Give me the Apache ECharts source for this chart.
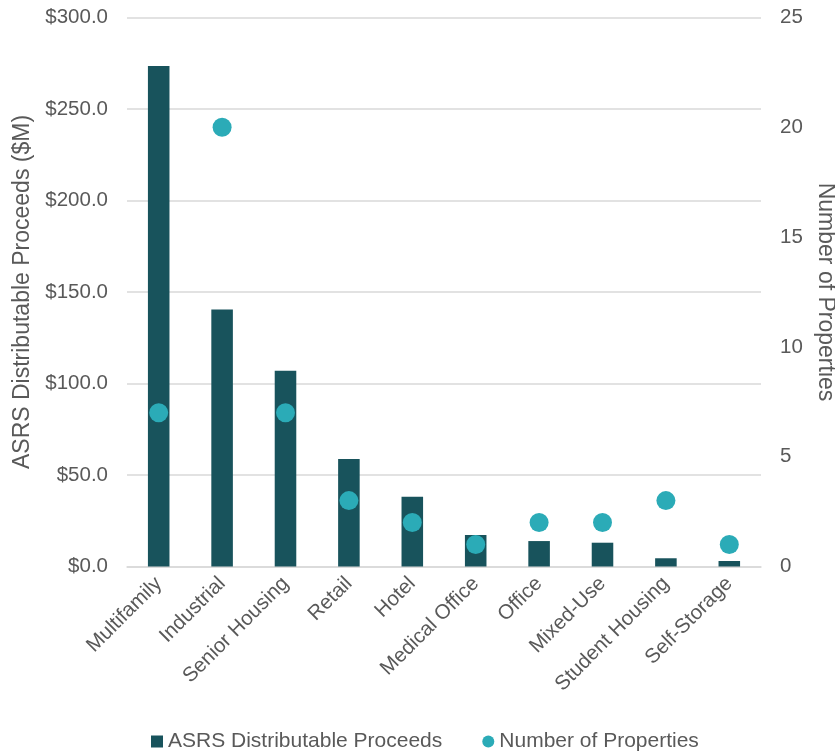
<!DOCTYPE html>
<html>
<head>
<meta charset="utf-8">
<script src="https://cdn.jsdelivr.net/npm/echarts@6/dist/echarts.min.js"></script>
<style>
  html, body { margin: 0; padding: 0; background: #ffffff; }
  #chart { width: 835px; height: 753px; }
</style>
</head>
<body>
<div id="chart"></div>
<script>
// Property types, ordered by distributable proceeds
const categories = ['Multifamily', 'Industrial', 'Senior Housing', 'Retail', 'Hotel',
  'Medical Office', 'Office', 'Mixed-Use', 'Student Housing', 'Self-Storage'];

// ASRS distributable proceeds, $M
const proceeds = [273.5, 140.5, 107.0, 58.7, 38.1, 17.2, 13.9, 13.0, 4.5, 3.0];

// Number of properties per type
const propertyCounts = [7, 20, 7, 3, 2, 1, 2, 2, 3, 1];

const textColor = '#595959';
const fontFamily = '"Liberation Sans", Arial, sans-serif';
const fontSize = 20.5;
const nameSize = 23;

const chart = echarts.init(document.getElementById('chart'), null, { renderer: 'canvas' });

chart.setOption({
  animation: false,
  backgroundColor: '#ffffff',
  textStyle: { fontFamily: fontFamily, color: textColor },
  grid: {
    left: 127, right: 74, top: 17.5, bottom: 186.5,
    containLabel: false,
    outerBoundsMode: 'none'
  },
  legend: {
    top: 726,
    left: 146,
    itemGap: 40,
    itemWidth: 12,
    itemHeight: 12,
    textStyle: { color: textColor, fontSize: 21, fontFamily: fontFamily },
    data: [
      { name: 'ASRS Distributable Proceeds', icon: 'rect' },
      { name: 'Number of Properties', icon: 'circle' }
    ]
  },
  xAxis: {
    type: 'category',
    data: categories,
    axisTick: { show: false },
    axisLine: { lineStyle: { color: '#d9d9d9', width: 1.5 } },
    axisLabel: {
      rotate: 45,
      interval: 0,
      margin: 14,
      color: textColor,
      fontSize: fontSize,
      fontFamily: fontFamily
    }
  },
  yAxis: [
    {
      type: 'value',
      min: 0,
      max: 300,
      interval: 50,
      name: 'ASRS Distributable Proceeds ($M)',
      nameLocation: 'middle',
      nameRotate: 90,
      nameGap: 84,
      nameTextStyle: { color: textColor, fontSize: nameSize, fontFamily: fontFamily },
      axisLine: { show: false },
      axisTick: { show: false },
      axisLabel: {
        margin: 19,
        color: textColor,
        fontSize: fontSize,
        fontFamily: fontFamily,
        formatter: v => '$' + v.toFixed(1)
      },
      splitLine: { lineStyle: { color: '#d9d9d9', width: 1.5 } }
    },
    {
      type: 'value',
      min: 0,
      max: 25,
      interval: 5,
      position: 'right',
      name: 'Number of Properties',
      nameLocation: 'middle',
      nameRotate: -90,
      nameGap: 53,
      nameTextStyle: { color: textColor, fontSize: nameSize, fontFamily: fontFamily },
      axisLine: { show: false },
      axisTick: { show: false },
      axisLabel: {
        margin: 19,
        color: textColor,
        fontSize: fontSize,
        fontFamily: fontFamily
      },
      splitLine: { show: false }
    }
  ],
  series: [
    {
      name: 'ASRS Distributable Proceeds',
      type: 'bar',
      data: proceeds,
      yAxisIndex: 0,
      barWidth: '34%',
      itemStyle: { color: '#18535c' }
    },
    {
      name: 'Number of Properties',
      type: 'scatter',
      data: propertyCounts,
      yAxisIndex: 1,
      symbol: 'circle',
      symbolSize: 19,
      itemStyle: { color: '#2babb7', opacity: 1 },
      z: 3
    }
  ]
});
</script>
</body>
</html>
